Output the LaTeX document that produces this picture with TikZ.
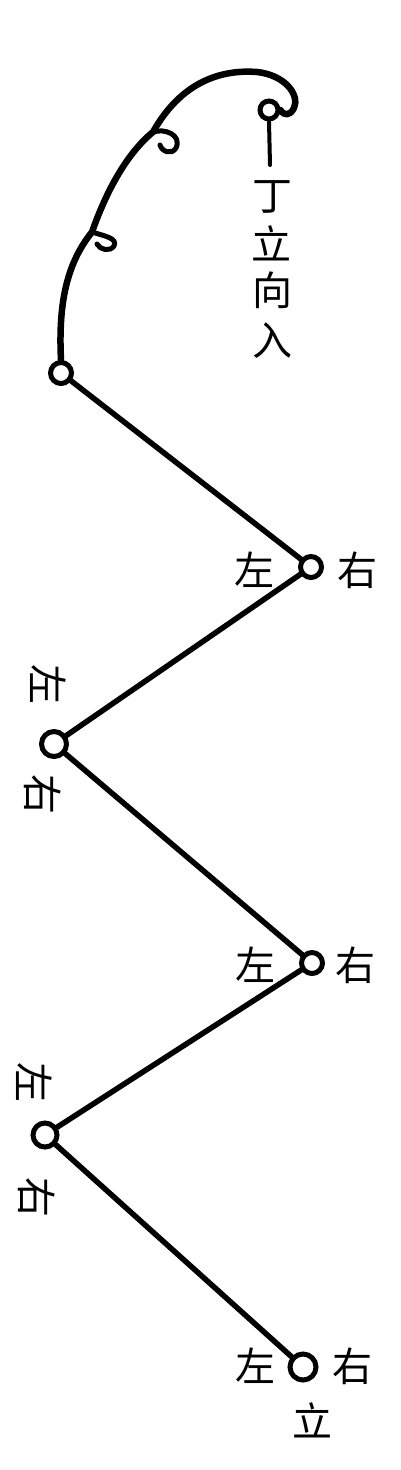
\documentclass[tikz,border=0pt]{standalone}
\usepackage{fontspec}
\newfontfamily\cjk{Noto Sans CJK SC}
\begin{document}
\begin{tikzpicture}[x=1pt,y=-1pt,
  pt/.style={circle, draw, line width=5pt, minimum size=21pt, inner sep=0pt},
  lbl/.style={font=\cjk\fontsize{40}{40}\selectfont, inner sep=0pt},
  rlbl/.style={lbl, rotate=-90},
  wire/.style={line width=5.5pt, line cap=round, line join=round},
  brush/.style={line width=6.5pt, line cap=round, line join=round}]
\useasboundingbox (0,0) rectangle (401,1470);
% nodes
\node[pt, minimum size=18pt] (top) at (269,110) {};
\node[pt] (n1) at (61,373) {};
\node[pt] (n2) at (311,567) {};
\node[pt, minimum size=25pt] (n3) at (54,744) {};
\node[pt] (n4) at (312,963) {};
\node[pt, minimum size=24pt] (n5) at (45,1135) {};
\node[pt, minimum size=26pt] (n6) at (303,1367) {};
% zigzag
\draw[wire] (n1) -- (n2);
\draw[wire] (n2) -- (n3);
\draw[wire] (n3) -- (n4);
\draw[wire] (n4) -- (n5);
\draw[wire] (n5) -- (n6);
% top arc
\coordinate (c1) at (153,132);
\coordinate (c2) at (92,232);
\draw[brush] (n1.north) .. controls (58,300) and (68,262) .. (c2)
  .. controls (105,195) and (125,155) .. (c1)
  .. controls (185,75) and (230,70) .. (257,72)
  .. controls (285,75) and (300,95) .. (294,108)
  .. controls (290,116) and (284,116) .. (top.east);
% small curls
\draw[brush, line width=5pt] (c1) .. controls (165,128) and (182,135) .. (176,148)
  .. controls (172,155) and (162,152) .. (160,145);
\draw[brush, line width=5pt] (c2) .. controls (104,236) and (118,238) .. (114,246)
  .. controls (110,252) and (100,250) .. (97,244);
% stem
\coordinate (stemend) at (270,165);
\draw[line width=4pt, line cap=round] (top.south) -- (stemend);
% vertical text
\node[lbl] (t1) at (272,197) {丁};
\node[lbl] (t2) at (271,243) {立};
\node[lbl] (t3) at (272,290) {向};
\node[lbl] (t4) at (272,341) {入};
% labels
\node[lbl] (l2) at (254,570) {左};
\node[lbl] (r2) at (357,570) {右};
\node[rlbl] (l3) at (48,684) {左};
\node[rlbl] (r3) at (43,794) {右};
\node[lbl] (l4) at (255,965) {左};
\node[lbl] (r4) at (355,965) {右};
\node[rlbl] (l5) at (34,1082) {左};
\node[rlbl] (r5) at (37,1197) {右};
\node[lbl] (l6) at (255,1366) {左};
\node[lbl] (r6) at (352,1366) {右};
\node[lbl] (b6) at (312,1420) {立};
\end{tikzpicture}
\end{document}
